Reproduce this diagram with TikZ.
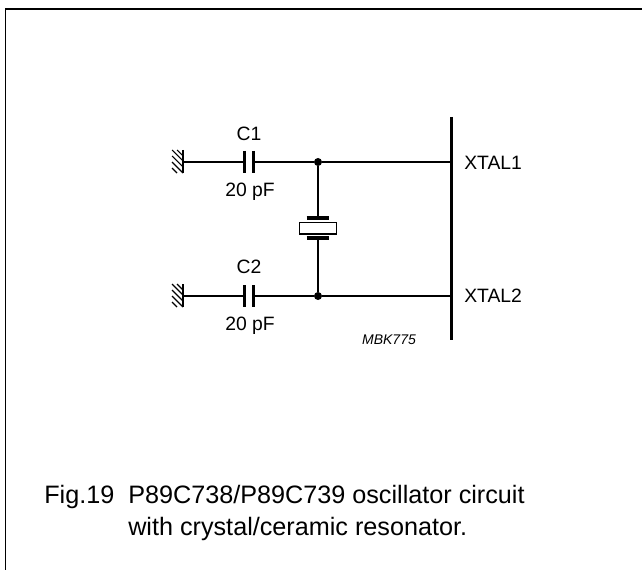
\documentclass[tikz,border=0pt]{standalone}
\usepackage{fontspec}
\setmainfont{Liberation Sans}
\tikzset{
  wire/.style={line width=1.4pt},
  plate/.style={line width=2.4pt},
  hatch/.style={line width=.8pt},
  lbl/.style={font=\fontsize{14.5}{17}\selectfont,inner sep=0pt},
  figtext/.style={font=\fontsize{18.9}{22}\selectfont,inner sep=0pt,anchor=base west},
  junction/.style={circle,fill=black,inner sep=0pt,minimum size=6pt}
}
\begin{document}
\begin{tikzpicture}[x=.75pt,y=-.75pt]
\useasboundingbox (0,0) rectangle (642,570);
\coordinate (frametl) at (5.5,9);
\coordinate (frametr) at (642,9);
\coordinate (framebl) at (5.5,570);
\draw[wire] (frametr) -- (frametl) -- (framebl);
% bus
\coordinate (bustop) at (451.7,117);
\coordinate (busbot) at (451.7,340);
\draw[plate] (bustop) -- (busbot);
% upper branch
\coordinate (gnda) at (183,162);
\coordinate (gndatop) at (183,150);
\coordinate (gndabot) at (183,173);
\coordinate (capaltop) at (244.5,151);
\coordinate (capalbot) at (244.5,173);
\coordinate (caprtop) at (253.7,151);
\coordinate (caprbot) at (253.7,173);
\coordinate (capl) at (244.5,162);
\coordinate (capr) at (253.7,162);
\coordinate (xa) at (451.7,162);
\node[junction] (juna) at (318,162) {};
\draw[line width=1.7pt] (gndatop) -- (gndabot);
\draw[wire] (gnda) -- (capl);
\draw[plate] (capaltop) -- (capalbot);
\draw[plate] (caprtop) -- (caprbot);
\draw[wire] (capr) -- (juna) -- (xa);
\draw[hatch] (177,150) -- (183,156);
\foreach \i in {0,1,2} {
  \draw[hatch] (172,150+\i*6) -- (183,161+\i*6);
}
\draw[hatch] (172,168) -- (177,173);
\node[lbl] (cone) at (249,134) {C1};
\node[lbl] (valone) at (250,192) {20 pF};
\node[lbl,anchor=west] (xone) at (464,163) {XTAL1};
% lower branch
\coordinate (gndb) at (183,296);
\coordinate (gndbtop) at (183,284);
\coordinate (gndbbot) at (183,307);
\coordinate (cbpltop) at (244.5,285);
\coordinate (cbplbot) at (244.5,307);
\coordinate (cbprtop) at (253.7,285);
\coordinate (cbprbot) at (253.7,307);
\coordinate (cbl) at (244.5,296);
\coordinate (cbr) at (253.7,296);
\coordinate (xb) at (451.7,296);
\node[junction] (junb) at (318,296) {};
\draw[line width=1.7pt] (gndbtop) -- (gndbbot);
\draw[wire] (gndb) -- (cbl);
\draw[plate] (cbpltop) -- (cbplbot);
\draw[plate] (cbprtop) -- (cbprbot);
\draw[wire] (cbr) -- (junb) -- (xb);
\draw[hatch] (177,284) -- (183,290);
\foreach \i in {0,1,2} {
  \draw[hatch] (172,284+\i*6) -- (183,295+\i*6);
}
\draw[hatch] (172,302) -- (177,307);
\node[lbl] (ctwo) at (249,267) {C2};
\node[lbl] (valtwo) at (250,326) {20 pF};
\node[lbl,anchor=west] (xtwo) at (464,296) {XTAL2};
% crystal
\coordinate (xtaltop) at (318,218);
\coordinate (xtalbot) at (318,238);
\coordinate (ptl) at (306.7,218);
\coordinate (ptr) at (329,218);
\coordinate (pbl) at (306.7,238);
\coordinate (pbr) at (329,238);
\draw[wire] (juna) -- (xtaltop);
\draw[wire] (xtalbot) -- (junb);
\draw[plate] (ptl) -- (ptr);
\draw[plate] (pbl) -- (pbr);
\draw[line width=1.2pt] (299.5,222.5) rectangle (336.5,234);
% captions
\node[font=\fontsize{10.5}{12}\selectfont\itshape,inner sep=0pt] (code) at (389,340) {MBK775};
\node[figtext] (figno) at (44,503) {Fig.19};
\node[figtext] (capa) at (128,503) {P89C738/P89C739 oscillator circuit};
\node[figtext] (capb) at (128,535) {with crystal/ceramic resonator.};
\end{tikzpicture}
\end{document}
